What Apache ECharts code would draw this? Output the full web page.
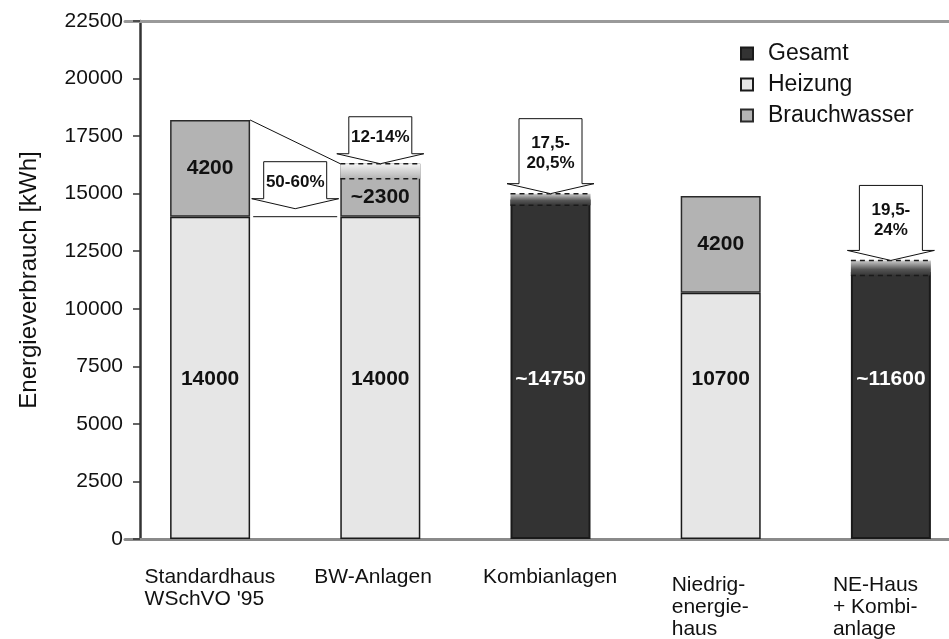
<!DOCTYPE html>
<html>
<head>
<meta charset="utf-8">
<script src="https://cdn.jsdelivr.net/npm/echarts@6/dist/echarts.min.js"></script>
<style>
  html, body { margin: 0; padding: 0; background: #ffffff; }
  #chart { width: 949px; height: 639px; }
</style>
</head>
<body>
<div id="chart"></div>
<script>
// Energy consumption per house type (kWh)
const categories = ['Standardhaus\nWSchVO \'95', 'BW-Anlagen', 'Kombianlagen', 'Niedrig-\nenergie-\nhaus', 'NE-Haus\n+ Kombi-\nanlage'];
const gesamt       = [null, null, 14750, null, 11600];
const heizung      = [14000, 14000, null, 10700, null];
const brauchwasser = [4200, 2300, null, 4200, null];
// values that are only approximate get a "~" prefix
const gesamtApprox       = [false, false, true, false, true];
const heizungApprox      = [false, false, false, false, false];
const brauchwasserApprox = [false, true, false, false, false];

// Range of the remaining demand after savings (kWh)
const rangeLow  = [null, 15650, 14500, null, 11450];
const rangeHigh = [null, 16300, 15000, null, 12100];

// Savings arrows: from category, to category, text
const savingsFrom = [0, 1, 2, 4];
const savingsTo   = [1, 1, 2, 4];
const savingsText = ['50-60%', '12-14%', '17,5-\n20,5%', '19,5-\n24%'];

const yTicks = [0, 2500, 5000, 7500, 10000, 12500, 15000, 17500, 20000, 22500];

const FONT = '"Liberation Sans", Arial, Helvetica, sans-serif';
const BAR_W = 80;
const INK = '#111111';
const CAT_FONT = 21;

// width of each category label block, so lines can be left-aligned inside it
const measureCtx = document.createElement('canvas').getContext('2d');
measureCtx.font = CAT_FONT + 'px ' + FONT;
const labelWidths = categories.map(c => Math.ceil(Math.max(...c.split('\n').map(l => measureCtx.measureText(l).width))));
const catRich = {};
labelWidths.forEach((w, i) => {
  catRich['c' + i] = { width: w, align: 'left', fontSize: CAT_FONT, lineHeight: 22, color: INK, fontFamily: FONT };
});
// extra spacing around some category labels (top, right, bottom, left)
const catPadding = [null, [0, 14, 0, 0], null, [8, 20, 0, 0], [8, 30, 0, 0]];

const chart = echarts.init(document.getElementById('chart'), null, { renderer: 'canvas' });

function topOf(i) {
  return (heizung[i] || 0) + (brauchwasser[i] || 0);
}

function withApprox(flags) {
  return p => (flags[p.dataIndex] ? '~' : '') + p.value;
}

// faded cap showing the savings range
function renderRange(params, api) {
  const i = api.value(0);
  const lo = api.value(1), hi = api.value(2);
  const pLo = api.coord([i, lo]);
  const pHi = api.coord([i, hi]);
  const x = pLo[0] - BAR_W / 2;
  const dark = gesamt[i] != null;
  const fill = new echarts.graphic.LinearGradient(0, 0, 0, 1, dark
    ? [{ offset: 0, color: '#cfcfcf' }, { offset: 0.6, color: '#555555' }, { offset: 1, color: '#363636' }]
    : [{ offset: 0, color: '#f4f4f4' }, { offset: 1, color: '#b3b3b3' }]);
  const dash = { stroke: '#1a1a1a', lineWidth: 1.5, lineDash: [5, 4] };
  return {
    type: 'group',
    children: [
      { type: 'rect', shape: { x: x, y: pHi[1], width: BAR_W, height: pLo[1] - pHi[1] }, style: { fill: fill } },
      { type: 'line', shape: { x1: x, y1: pHi[1], x2: x + BAR_W, y2: pHi[1] }, style: dash },
      { type: 'line', shape: { x1: x, y1: pLo[1], x2: x + BAR_W, y2: pLo[1] }, style: dash }
    ]
  };
}

// block arrow with the savings percentage
function renderArrow(params, api) {
  const i0 = api.value(0), i1 = api.value(1);
  const idx = params.dataIndex;
  const text = savingsText[idx];
  const between = i0 !== i1;
  const target = api.value(2);
  const p0 = api.coord([i0, target]);
  const p1 = api.coord([i1, target]);
  const cx = (p0[0] + p1[0]) / 2;
  const gap = between ? 8 : 0;
  const tip = p1[1] - gap;
  const lines = text.split('\n').length;
  const len = lines > 1 ? 75 : 47;
  const headH = 10, bodyW = 63, headW = 87;
  const base = tip - headH;
  const top = tip - len;
  const children = [
    {
      type: 'polygon',
      shape: { points: [
        [cx - bodyW / 2, top], [cx + bodyW / 2, top], [cx + bodyW / 2, base],
        [cx + headW / 2, base], [cx, tip], [cx - headW / 2, base], [cx - bodyW / 2, base]
      ] },
      style: { fill: '#ffffff', stroke: '#111111', lineWidth: 1 }
    },
    {
      type: 'text',
      style: {
        text: text, x: cx, y: (top + base) / 2 + 2,
        align: 'center', verticalAlign: 'middle',
        font: 'bold 17px ' + FONT, lineHeight: 20, fill: INK
      }
    }
  ];
  if (between) {
    // reference line at the heating-only level plus the connector between the bar tops
    children.push({
      type: 'line',
      shape: { x1: cx - 42, y1: p0[1], x2: cx + 42, y2: p0[1] },
      style: { stroke: '#111111', lineWidth: 1 }
    });
    const a = api.coord([i0, topOf(i0)]);
    const b = api.coord([i1, topOf(i1)]);
    children.push({
      type: 'line',
      shape: { x1: a[0] + BAR_W / 2, y1: a[1], x2: b[0] - BAR_W / 2, y2: b[1] },
      style: { stroke: '#111111', lineWidth: 1 }
    });
  }
  return { type: 'group', children: children };
}

const barLabel = {
  show: true,
  position: 'insideBottom',
  distance: 149,
  fontFamily: FONT,
  fontWeight: 'bold',
  fontSize: 21,
  color: INK
};

const option = {
  animation: false,
  backgroundColor: '#ffffff',
  textStyle: { fontFamily: FONT },
  grid: { left: 125, width: 851, top: 21, bottom: 100, containLabel: false, outerBoundsMode: 'none' },
  legend: {
    orient: 'vertical',
    left: 735,
    top: 37,
    itemWidth: 12,
    itemHeight: 12,
    itemGap: 8,
    icon: 'rect',
    data: ['Gesamt', 'Heizung', 'Brauchwasser'],
    textStyle: { fontSize: 23, color: INK, fontFamily: FONT, padding: [0, 0, 0, 10] }
  },
  xAxis: [
    {
      type: 'category',
      data: categories.map((c, i) => catPadding[i] ? { value: c, textStyle: { padding: catPadding[i] } } : c),
      axisLine: { lineStyle: { color: '#8a8a8a', width: 3 } },
      axisTick: { show: false },
      axisLabel: {
        interval: 0,
        margin: 27,
        align: 'center',
        formatter: (value, i) => value.split('\n').map(l => '{c' + i + '|' + l + '}').join('\n'),
        rich: catRich
      }
    },
    {
      type: 'category',
      position: 'top',
      data: categories,
      axisLine: { lineStyle: { color: '#9a9a9a', width: 3 } },
      axisTick: { show: false },
      axisLabel: { show: false }
    }
  ],
  yAxis: {
    type: 'value',
    min: yTicks[0],
    max: yTicks[yTicks.length - 1],
    interval: yTicks[1] - yTicks[0],
    offset: -15,
    name: 'Energieverbrauch [kWh]',
    nameLocation: 'middle',
    nameGap: 99,
    nameTextStyle: { fontSize: 24, color: INK, fontFamily: FONT },
    axisLine: { show: true, lineStyle: { color: '#333333', width: 2.5 } },
    axisTick: { show: true, length: 7, lineStyle: { color: '#333333', width: 1.5 } },
    axisLabel: { fontSize: 21, color: INK, margin: 17, formatter: v => String(v) },
    splitLine: { show: false }
  },
  series: [
    {
      name: 'Heizung',
      type: 'bar',
      stack: 'verbrauch',
      barWidth: BAR_W,
      barGap: '-100%',
      data: heizung,
      itemStyle: { color: '#e6e6e6', borderColor: '#1a1a1a', borderWidth: 1.5 },
      label: Object.assign({}, barLabel, { formatter: withApprox(heizungApprox) })
    },
    {
      name: 'Brauchwasser',
      type: 'bar',
      stack: 'verbrauch',
      barWidth: BAR_W,
      barGap: '-100%',
      data: brauchwasser.map((v, i) => brauchwasserApprox[i] ? { value: v, label: { offset: [0, 7] } } : v),
      itemStyle: { color: '#b3b3b3', borderColor: '#2a2a2a', borderWidth: 1.5 },
      label: {
        show: true, position: 'inside', fontFamily: FONT, fontWeight: 'bold', fontSize: 21, color: INK,
        formatter: withApprox(brauchwasserApprox)
      }
    },
    {
      name: 'Gesamt',
      type: 'bar',
      stack: 'gesamt',
      barWidth: BAR_W,
      barGap: '-100%',
      data: gesamt,
      itemStyle: { color: '#333333', borderColor: '#1a1a1a', borderWidth: 2 },
      label: Object.assign({}, barLabel, { color: '#ffffff', formatter: withApprox(gesamtApprox) })
    },
    {
      name: 'Bereich',
      type: 'custom',
      z: 5,
      renderItem: renderRange,
      encode: { x: 0, y: [1, 2] },
      data: rangeLow.map((lo, i) => lo == null ? null : [i, lo, rangeHigh[i]]).filter(d => d)
    },
    {
      name: 'Einsparung',
      type: 'custom',
      z: 6,
      renderItem: renderArrow,
      encode: { x: 0, y: 2 },
      data: savingsFrom.map((f, k) => [f, savingsTo[k], f !== savingsTo[k] ? heizung[f] : rangeHigh[savingsTo[k]]])
    }
  ]
};

chart.setOption(option);
</script>
</body>
</html>
